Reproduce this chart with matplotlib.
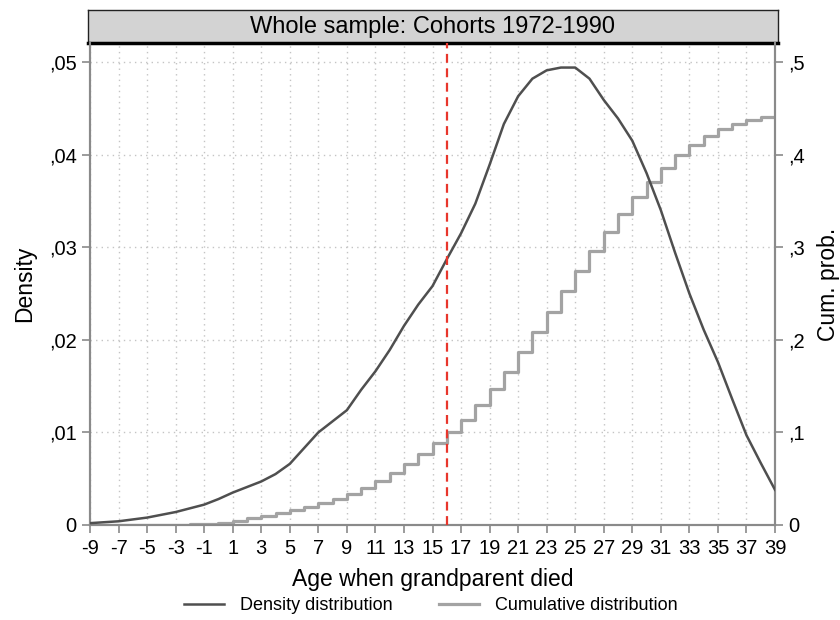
import matplotlib
matplotlib.use("Agg")
from matplotlib import pyplot as plt
from matplotlib.lines import Line2D
import numpy as np

plt.rcParams['font.family'] = ['Liberation Sans', 'DejaVu Sans']

# age when grandparent died
ages = list(range(-9, 40))

# kernel density (left axis)
density = [0.0002, 0.0003, 0.0004, 0.0006, 0.0008, 0.0011, 0.0014, 0.0018, 0.0022,
           0.0028, 0.0035, 0.0041, 0.0047, 0.0055, 0.0066, 0.0083, 0.0100, 0.0112,
           0.0124, 0.0146, 0.0166, 0.0189, 0.0215, 0.0238, 0.0258, 0.0287, 0.0315,
           0.0347, 0.0389, 0.0433, 0.0463, 0.0482, 0.0491, 0.0494, 0.0494, 0.0482,
           0.0459, 0.0439, 0.0415, 0.0380, 0.0340, 0.0294, 0.0250, 0.0211, 0.0176,
           0.0136, 0.0097, 0.0067, 0.0038]

# cumulative probability (right axis), level held from each age to the next
cum_prob = [0, 0, 0, 0, 0, 0, 0, 0.0010, 0.0015,
            0.0025, 0.0047, 0.0072, 0.0100, 0.0126, 0.0162, 0.0191, 0.0234, 0.0280,
            0.0335, 0.0396, 0.0479, 0.0565, 0.0655, 0.0767, 0.0882, 0.1008, 0.1134,
            0.1296, 0.1465, 0.1656, 0.1872, 0.2087, 0.2303, 0.2527, 0.2746, 0.2962,
            0.3161, 0.3359, 0.3545, 0.3701, 0.3859, 0.3996, 0.4104, 0.4201, 0.4276,
            0.4327, 0.4374, 0.4403, 0.4403]

cutoff_age = 16

x_ticks = list(range(-9, 40, 2))
left_ticks = [0, 0.01, 0.02, 0.03, 0.04, 0.05]
left_labels = ['0', ',01', ',02', ',03', ',04', ',05']
right_ticks = [0, 0.1, 0.2, 0.3, 0.4, 0.5]
right_labels = ['0', ',1', ',2', ',3', ',4', ',5']

W, H = 840, 620
fig = plt.figure(figsize=(W / 100, H / 100), dpi=100)

# plot region in pixels
px_l, px_r, px_t, px_b = 90, 775, 43, 525
ax = fig.add_axes([px_l / W, 1 - px_b / H, (px_r - px_l) / W, (px_b - px_t) / H])
ax2 = ax.twinx()
ax.set_zorder(ax2.get_zorder() + 1)
ax.patch.set_visible(False)

ymax = 0.05 * (px_b - px_t) / (px_b - 62)
ax.set_xlim(-9, 39)
ax.set_ylim(0, ymax)
ax2.set_ylim(0, ymax * 10)

grid_col = '#c4c4c4'
for xv in x_ticks:
    ax2.axvline(xv, color=grid_col, lw=1.0, ls=(0, (1, 3)), zorder=0)
for yv in right_ticks[1:]:
    ax2.axhline(yv, color=grid_col, lw=1.0, ls=(0, (1, 3)), zorder=0)

ax2.plot(ages, cum_prob, drawstyle='steps-post', color='#a3a3a3', lw=2.3, zorder=2)
ax.plot(ages, density, color='#4f4f4f', lw=1.8, zorder=3)
ax.axvline(cutoff_age, color='#e8362c', lw=1.6, ls=(0, (4, 2.5)), zorder=4)

spine_col = '#8a8a8a'
for a in (ax, ax2):
    for s in ('left', 'right', 'bottom'):
        a.spines[s].set_color(spine_col)
        a.spines[s].set_linewidth(1.5)
    a.spines['top'].set_visible(False)
    a.tick_params(colors=spine_col, labelcolor='black', length=6, width=1.2,
                  labelsize=14.5)

ax.set_xticks(x_ticks)
ax.set_xticklabels([str(v) for v in x_ticks])
ax.tick_params(axis='x', pad=4)
ax.set_yticks(left_ticks)
ax.set_yticklabels(left_labels)
ax2.set_yticks(right_ticks)
ax2.set_yticklabels(right_labels)

ax.set_xlabel('Age when grandparent died', fontsize=16.5, labelpad=7)
ax.set_ylabel('Density', fontsize=16.5, labelpad=9)
ax2.set_ylabel('Cum. prob.', fontsize=16.5, labelpad=9)

# title bar
tb = fig.add_axes([88 / W, 1 - 43 / H, (778 - 88) / W, 33 / H])
tb.set_facecolor('#d3d3d3')
tb.set_xticks([])
tb.set_yticks([])
for s in tb.spines.values():
    s.set_color('#222222')
    s.set_linewidth(1.0)
tb.spines['bottom'].set_linewidth(2.5)
tb.spines['bottom'].set_color('black')
tb.text(0.5, 0.5, 'Whole sample: Cohorts 1972-1990', ha='center', va='center',
        fontsize=17, transform=tb.transAxes)

handles = [Line2D([], [], color='#4f4f4f', lw=1.8),
           Line2D([], [], color='#a3a3a3', lw=2.3)]
fig.legend(handles, ['Density distribution', 'Cumulative distribution'],
           loc='center', bbox_to_anchor=(431 / W, 1 - 606 / H), ncol=2,
           frameon=False, fontsize=13, handlelength=2.2, columnspacing=2.6,
           handletextpad=0.9)

fig.savefig('out.png', dpi=100, facecolor='white')
